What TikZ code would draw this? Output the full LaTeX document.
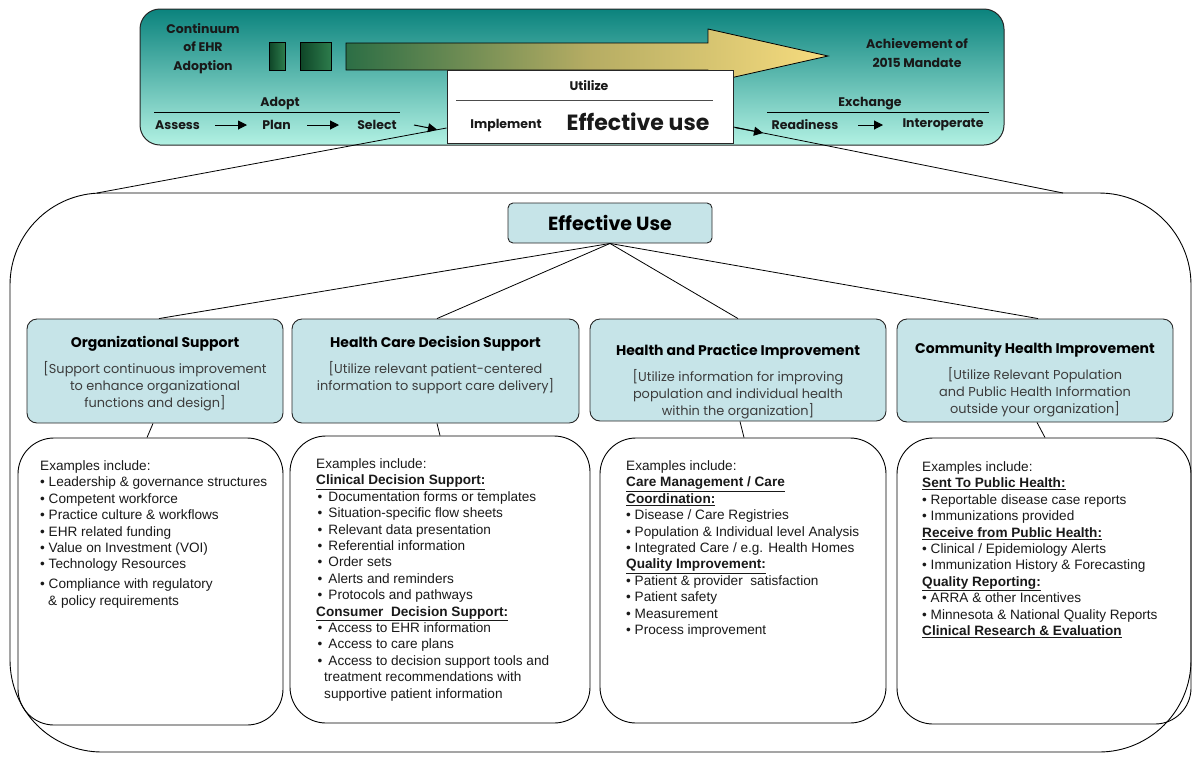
\documentclass[tikz,border=0pt]{standalone}
\usepackage{fontspec}
\setmainfont{Liberation Sans}
\newfontfamily\gothic{Poppins}
\usetikzlibrary{arrows.meta,calc}
\definecolor{bantop}{HTML}{0B837D}
\definecolor{banbot}{HTML}{B2F1E3}
\definecolor{boxfill}{HTML}{C6E4E8}
\definecolor{descgray}{HTML}{3C3C3C}
\definecolor{dkgreen}{HTML}{0E4527}
\definecolor{mdgreen}{HTML}{2D7C4C}
\definecolor{arrgreen}{HTML}{2C6E45}
\definecolor{arrmid}{HTML}{B5AC63}
\definecolor{arryel}{HTML}{F7DC7E}
\newcommand{\bl}{\textbullet\ }
\newcommand{\blb}{\hspace{1.5pt}\textbullet\hspace{6pt}}
\newcommand{\hd}[1]{\underline{\textbf{#1}}}
\newcommand{\cattitlefont}{\gothic\bfseries\fontsize{14}{17}\selectfont\color{black}}
\begin{document}
\begin{tikzpicture}[x=1pt,y=-1pt,
  bantxt/.style={font=\gothic\bfseries\fontsize{12.5}{18.5}\selectfont, text=black!90, inner sep=0, align=center},
  catbox/.style={draw=black!85, line width=0.9pt, fill=boxfill, rounded corners=10pt, inner sep=0},
  exbox/.style={draw=black, line width=0.9pt, rounded corners=36pt, inner sep=0},
  extxt/.style={anchor=north west, inner sep=0, align=left, font=\fontsize{13.6}{16.4}\selectfont, text=black!90},
  cattxt/.style={anchor=north, inner sep=0, align=center, font=\gothic\fontsize{12.9}{17}\selectfont, text=descgray},
  conn/.style={draw=black, line width=0.8pt},
  arr/.style={-{Triangle[length=9pt,width=9pt]}, line width=1pt}
]
\useasboundingbox (0,0) rectangle (1193,756);

% ---------- top banner ----------
\shadedraw[top color=bantop, bottom color=banbot, draw=black!85, line width=1pt, rounded corners=20pt]
  (140,9) rectangle (1004,145);

\node[bantxt] (cont) at (203,48.5) {Continuum\\of EHR\\Adoption};
\node[bantxt] (ach) at (917,53) {Achievement of\\2015 Mandate};

\shadedraw[left color=dkgreen, right color=mdgreen, draw=black, line width=0.8pt] (269,42) rectangle (285,70);
\shadedraw[left color=dkgreen, right color=mdgreen, draw=black, line width=0.8pt] (300,42) rectangle (331,70);
\shadedraw[left color=arrgreen, right color=arryel, middle color=arrmid, draw=black, line width=0.8pt]
  (346,43) -- (708,43) -- (708,29) -- (828,56) -- (708,83) -- (708,70) -- (346,70) -- cycle;

% white box
\node[draw=black!85, line width=1pt, fill=white, minimum width=286pt, minimum height=73pt, inner sep=0] (wb) at (590,106.5) {};
\draw[black!70, line width=1pt] (456,100) -- (713,100);
\node[bantxt] (util) at (589,86) {Utilize};
\node[bantxt] (impl) at (506,126) {Implement};
\node[bantxt, font=\gothic\bfseries\fontsize{22}{24}\selectfont] (effu) at (638,122) {Effective use};

% adopt
\node[bantxt] (adopt) at (280,104) {Adopt};
\draw[black, line width=1pt] (154,112) -- (400,112);
\node[bantxt] (assess) at (177.5,125) {Assess};
\node[bantxt] (plan) at (276.5,125) {Plan};
\node[bantxt] (select) at (377,125) {Select};
\coordinate (a1s) at (215,125); \coordinate (a1e) at (247,125);
\coordinate (a2s) at (307,125); \coordinate (a2e) at (339,125);
\coordinate (a3s) at (414,125); \coordinate (a3e) at (437,129.5);
\draw[arr] (a1s) -- (a1e);
\draw[arr] (a2s) -- (a2e);
\draw[arr] (a3s) -- (a3e);

% exchange
\node[bantxt] (exch) at (870,104) {Exchange};
\draw[black, line width=1pt] (767,112) -- (989,112);
\node[bantxt] (ready) at (805,125) {Readiness};
\node[bantxt] (inter) at (943,125) {Interoperate};
\coordinate (a4s) at (858,125); \coordinate (a4e) at (883,125);
\coordinate (a5s) at (735,127.5); \coordinate (a5e) at (763,133);
\draw[arr] (a4s) -- (a4e);
\draw[arr] (a5s) -- (a5e);

% ---------- outer frame ----------
\draw[black, line width=0.9pt, rounded corners=92pt] (10,193) rectangle (1191,752);
\coordinate (otl) at (97,193);
\coordinate (otr) at (1063,193);
\draw[conn] ([yshift=-21.5pt]wb.west) -- (otl);
\draw[conn] ([yshift=-20.5pt]wb.east) -- (otr);

% ---------- Effective Use ----------
\node[draw=black!85, line width=0.9pt, fill=boxfill, rounded corners=5pt, minimum width=204pt, minimum height=40pt, inner sep=0,
  font=\gothic\bfseries\fontsize{19}{22}\selectfont] (eu) at (610,223) {Effective Use};

% ---------- category boxes ----------
\node[catbox, minimum width=256pt, minimum height=104pt] (c1) at (155,371) {};
\node[catbox, minimum width=287pt, minimum height=104pt] (c2) at (435.5,371) {};
\node[catbox, minimum width=296pt, minimum height=102pt] (c3) at (738,370) {};
\node[catbox, minimum width=276pt, minimum height=103pt] (c4) at (1035,370.5) {};

\node[cattxt] (t1) at (155,336) {{\cattitlefont Organizational Support}\\[9pt][Support continuous improvement\\to enhance organizational\\functions and design]};
\node[cattxt] (t2) at (435.5,336) {{\cattitlefont Health Care Decision Support}\\[9pt][Utilize relevant patient-centered\\information to support care delivery]};
\node[cattxt] (t3) at (738,344.5) {{\cattitlefont Health and Practice Improvement}\\[9pt][Utilize information for improving\\population and individual health\\within the organization]};
\node[cattxt] (t4) at (1035,342.5) {{\cattitlefont Community Health Improvement}\\[9pt][Utilize Relevant Population\\and Public Health Information\\outside your organization]};

% ---------- example boxes ----------
\node[exbox, minimum width=265pt, minimum height=287pt] (e1) at (150.5,581.5) {};
\node[exbox, minimum width=300pt, minimum height=287pt] (e2) at (440,579.5) {};
\node[exbox, minimum width=286pt, minimum height=285pt] (e3) at (743,580.5) {};
\node[exbox, minimum width=294pt, minimum height=286pt] (e4) at (1044,581) {};

% connectors
\draw[conn] (eu.south) -- ([xshift=4pt]c1.north);
\draw[conn] (eu.south) -- ([xshift=1.5pt]c2.north);
\draw[conn] (eu.south) -- (c3.north);
\draw[conn] (eu.south) -- ([xshift=3pt]c4.north);
\draw[conn] ([xshift=-2pt]c1.south) -- ([xshift=-3.5pt]e1.north);
\draw[conn] ([xshift=1.5pt]c2.south) -- (e2.north);
\draw[conn] ([xshift=2pt]c3.south) -- ([xshift=1pt]e3.north);
\draw[conn] ([xshift=2pt]c4.south) -- ([xshift=1pt]e4.north);

% example texts
\node[extxt] (x1) at (40,460.5) {Examples include:\\
\bl Leadership \& governance structures\\
\bl Competent workforce\\
\bl Practice culture \& workflows\\
\bl EHR related funding\\
\bl Value on Investment (VOI)\\
\bl Technology Resources\\[3.5pt]
\bl Compliance with regulatory\\
\hspace{8pt}\& policy requirements};

\node[extxt] (x2) at (316,458.5) {Examples include:\\
\hd{Clinical Decision Support:}\\
\blb Documentation forms or templates\\
\blb Situation-specific flow sheets\\
\blb Relevant data presentation\\
\blb Referential information\\
\blb Order sets\\
\blb Alerts and reminders\\
\blb Protocols and pathways\\
\hd{Consumer\ \ Decision Support:}\\
\blb Access to EHR information\\
\blb Access to care plans\\
\blb Access to decision support tools and\\
\hspace{8pt}treatment recommendations with\\
\hspace{8pt}supportive patient information};

\node[extxt] (x3) at (626,460.5) {Examples include:\\
\hd{Care Management / Care}\\
\hd{Coordination:}\\
\bl Disease / Care Registries\\
\bl Population \& Individual level Analysis\\
\bl Integrated Care / e.g. Health Homes\\
\hd{Quality Improvement:}\\
\bl Patient \& provider\ \ satisfaction\\
\bl Patient safety\\
\bl Measurement\\
\bl Process improvement};

\node[extxt] (x4) at (922,461.5) {Examples include:\\
\hd{Sent To Public Health:}\\
\bl Reportable disease case reports\\
\bl Immunizations provided\\
\hd{Receive from Public Health:}\\
\bl Clinical / Epidemiology Alerts\\
\bl Immunization History \& Forecasting\\
\hd{Quality Reporting:}\\
\bl ARRA \& other Incentives\\
\bl Minnesota \& National Quality Reports\\
\hd{Clinical Research \& Evaluation}};
\end{tikzpicture}
\end{document}
